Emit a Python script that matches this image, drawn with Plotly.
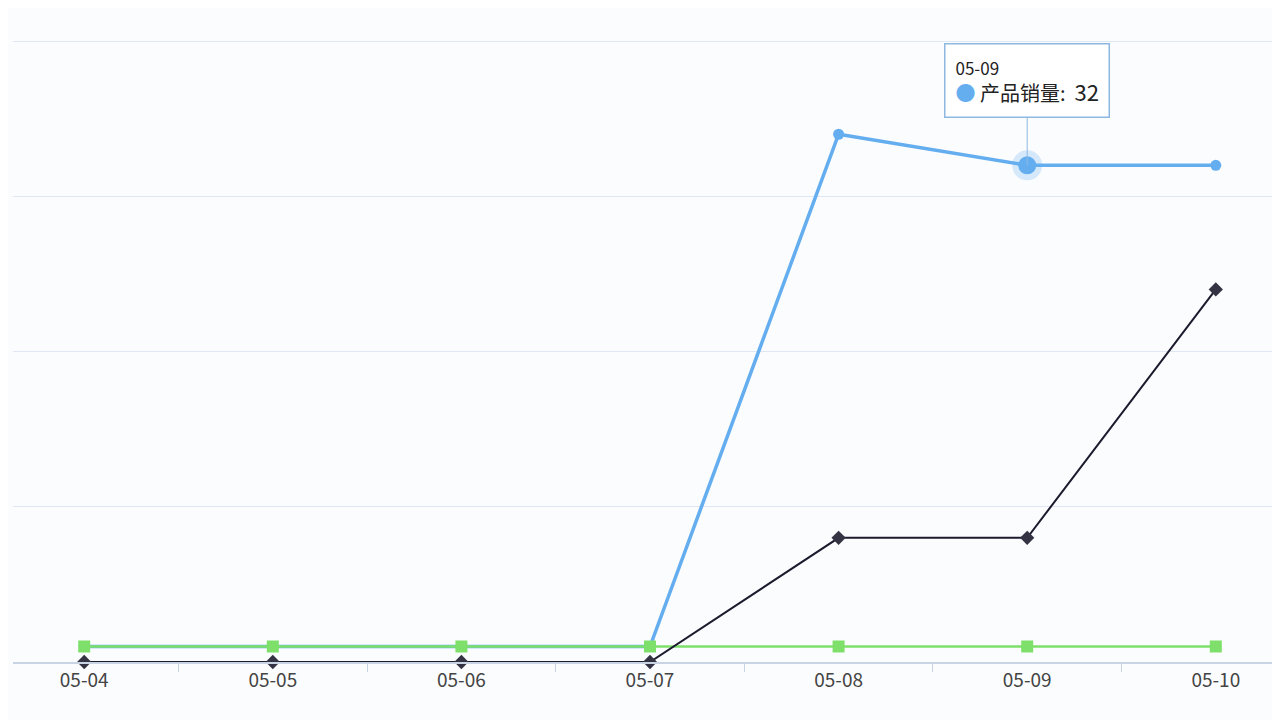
import plotly.graph_objects as go

dates = ["05-04", "05-05", "05-06", "05-07", "05-08", "05-09", "05-10"]
sales = [1, 1, 1, 1, 34, 32, 32]
black_series = [0, 0, 0, 0, 8, 8, 24]
green_series = [1, 1, 1, 1, 1, 1, 1]

fig = go.Figure()
fig.add_trace(go.Scatter(x=dates, y=sales, mode="lines+markers", name="产品销量", cliponaxis=False,
    line=dict(color="#64aef0", width=3.5), marker=dict(size=11, color="#64aef0")))
fig.add_trace(go.Scatter(x=dates, y=green_series, mode="lines+markers", cliponaxis=False,
    line=dict(color="#7ee06a", width=2.5), marker=dict(symbol="square", size=12, color="#7ee06a")))
fig.add_trace(go.Scatter(x=dates, y=black_series, mode="lines+markers", cliponaxis=False,
    line=dict(color="#1d1a2e", width=2), marker=dict(symbol="diamond", size=11, color="#333344")))
fig.add_trace(go.Scatter(x=[dates[5]], y=[sales[5]], mode="markers",
    marker=dict(size=30, color="rgba(100,174,240,0.25)"), hoverinfo="skip"))
fig.add_trace(go.Scatter(x=[dates[5]], y=[sales[5]], mode="markers",
    marker=dict(size=18, color="#64aef0"), hoverinfo="skip"))

fig.add_annotation(x=dates[5], y=sales[5], xref="x", yref="y",
    text="<span style='font-size:17px'>05-09</span><br><span style='color:#64aef0;font-size:20px'>●</span> 产品销量:  <span style='font-size:22px'>32</span>",
    showarrow=True, arrowhead=0, arrowcolor="#8fb8e0", ax=0, ay=-85, align="left",
    bgcolor="rgba(255,255,255,0.95)", bordercolor="#8fb8e0", borderwidth=1.5, borderpad=10,
    font=dict(size=20, color="#222", family="Noto Sans CJK SC"))

fig.update_layout(width=1280, height=720, showlegend=False,
    paper_bgcolor="#fbfcfe", plot_bgcolor="#fbfcfe",
    margin=dict(l=5, r=1, t=30, b=66),
    font=dict(family="Noto Sans CJK SC", color="#444"),
    xaxis=dict(type="category", showgrid=False, showline=True, linecolor="#c8d4e4", linewidth=1.5,
               ticks="outside", tickcolor="#c8d4e4", ticklen=8, tickson="boundaries",
               tickfont=dict(size=19, color="#444")),
    yaxis=dict(range=[0, 40.2], dtick=10, showticklabels=False, gridcolor="#dfe7f2",
               zeroline=False, fixedrange=True))
fig.write_html("out.html")
